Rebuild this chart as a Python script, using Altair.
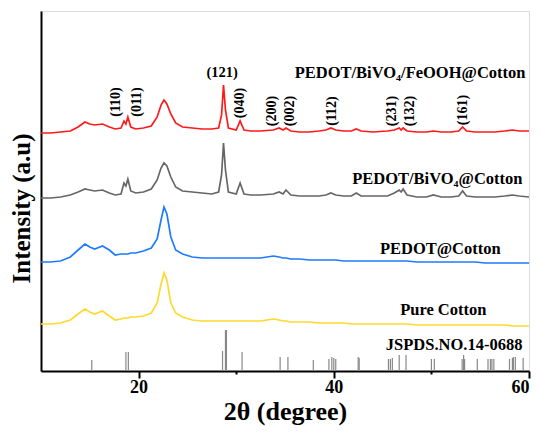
import altair as alt
import pandas as pd

# 2-theta sampling positions (degrees)
two_theta = [10, 11, 12, 13, 13.8, 14.5, 15.0, 15.5, 16.3, 17.0, 17.6, 18.2, 18.5, 18.7, 18.9,
             19.2, 19.7, 20.5, 21.3, 21.9, 22.3, 22.6, 22.9, 23.3, 23.8, 24.5, 25.5, 26.5, 27.5,
             28.2, 28.5, 28.7, 28.9, 29.2, 30.0, 30.4, 30.8, 31.5, 32.5, 33.8, 34.4, 34.8, 35.1,
             35.6, 36.5, 37.5, 38.5, 39.2, 39.7, 40.2, 41.0, 41.8, 42.3, 42.8, 44.0, 45.5, 46.2,
             46.7, 46.9, 47.1, 47.5, 48.5, 49.5, 50.2, 51.0, 52.0, 52.8, 53.2, 53.6, 54.5, 55.5,
             56.5, 57.5, 58.3, 59.0, 60]

# stacked (offset) intensities, arbitrary units
fe_cotton = [238, 238, 239, 240, 244, 249, 247, 246, 247, 244, 242, 243, 250, 247, 254,
             244, 242, 243, 245, 254, 266, 271, 267, 257, 248, 244, 243, 242, 242,
             243, 256, 286, 261, 243, 241, 250, 241, 240, 240, 241, 243, 241, 243,
             240, 239, 239, 240, 241, 243, 241, 240, 240, 242, 240, 239, 240, 241,
             243, 241, 243, 240, 239, 239, 240, 239, 239, 240, 244, 240, 239, 239,
             239, 240, 241, 240, 240]
bivo_cotton = [173, 173, 174, 176, 179, 182, 181, 180, 181, 178, 176, 177, 188, 185, 192,
               180, 178, 179, 182, 191, 203, 208, 205, 194, 184, 180, 179, 178, 177,
               179, 196, 228, 201, 179, 177, 188, 177, 176, 176, 177, 179, 177, 181,
               176, 175, 175, 175, 176, 178, 176, 175, 175, 178, 175, 175, 175, 178,
               181, 179, 182, 176, 174, 174, 176, 174, 174, 175, 180, 175, 174, 174,
               174, 175, 176, 175, 174]
pedot_cotton = [109, 109, 110, 114, 121, 127, 124, 122, 125, 121, 116, 117, 117, 117, 117,
                118, 118, 120, 123, 132, 151, 164, 157, 134, 121, 117, 114, 113, 113,
                113, 113, 113, 113, 113, 113, 113, 113, 113, 113, 115, 114, 113, 113,
                112, 112, 111, 111, 111, 111, 111, 110, 110, 110, 110, 110, 110, 110,
                110, 110, 110, 110, 109, 109, 109, 109, 109, 109, 109, 109, 109, 108,
                108, 108, 108, 108, 108]
pure_cotton = [47, 47, 48, 51, 57, 62, 59, 57, 60, 55, 51, 52, 53, 53, 53,
               54, 54, 55, 58, 68, 87, 98, 91, 68, 58, 54, 51, 50, 50,
               50, 50, 50, 50, 50, 50, 50, 50, 50, 50, 52, 51, 50, 50,
               49, 49, 49, 48, 48, 48, 48, 48, 47, 47, 47, 47, 47, 47,
               47, 47, 47, 47, 46, 46, 46, 46, 46, 46, 46, 46, 46, 46,
               46, 46, 45, 45, 45]

series_names = ["PEDOT/BiVO4/FeOOH@Cotton", "PEDOT/BiVO4@Cotton", "PEDOT@Cotton", "Pure Cotton"]
series_colors = ["#FF1A1A", "#666666", "#1E7BFF", "#FFD92E"]

# standard card JCPDS 14-0688 stick pattern
ref_pos = [15.2, 18.7, 18.95, 28.6, 28.9, 29.0, 30.6, 34.5, 35.3, 37.9, 39.5, 39.8, 40.0, 40.2,
           42.5, 42.6, 45.6, 45.8, 46.0, 46.7, 47.4, 50.0, 50.3, 53.15, 53.3, 53.4, 54.7,
           55.8, 56.05, 56.2, 56.4, 58.0, 58.3, 58.4, 58.6, 59.4]
ref_int = [11, 19, 19, 20, 41, 41, 19, 14, 14, 11, 12, 14, 13, 12,
           14, 13, 12, 12, 13, 16, 16, 12, 12, 12, 16, 12, 12,
           12, 12, 12, 12, 12, 13, 14, 14, 13]
ref_base = 0

# sample labels
label_text = ["PEDOT/BiVO₄/FeOOH@Cotton", "PEDOT/BiVO₄@Cotton", "PEDOT@Cotton", "Pure Cotton",
              "JSPDS.NO.14-0688"]
label_x = [59.64, 59.33, 57.1, 55.64, 59.33]
label_y = [298, 192, 122, 61, 26]

# Miller index annotations
hkl_text = ["(110)", "(011)", "(040)", "(200)", "(002)", "(112)", "(231)", "(132)", "(161)"]
hkl_x = [17.69, 19.85, 30.41, 33.69, 35.54, 39.85, 46.0, 47.85, 53.28]
hkl_y = [269, 269, 268, 260, 260, 260, 260, 260, 261]
top_hkl_text = ["(121)"]
top_hkl_x = [28.56]
top_hkl_y = [298]

major_ticks = [20, 40, 60]
minor_ticks = [30, 50]

FONT = "Liberation Serif"

rows = []
for name, vals in zip(series_names, [fe_cotton, bivo_cotton, pedot_cotton, pure_cotton]):
    for xv, yv in zip(two_theta, vals):
        rows.append({"x": xv, "y": yv, "series": name})
lines_df = pd.DataFrame(rows)
ref_df = pd.DataFrame({"x": ref_pos, "y": [ref_base] * len(ref_pos),
                       "y2": [ref_base + v for v in ref_int]})
lab_df = pd.DataFrame({"x": label_x, "y": label_y, "t": label_text})
hkl_df = pd.DataFrame({"x": hkl_x, "y": hkl_y, "t": hkl_text})
top_df = pd.DataFrame({"x": top_hkl_x, "y": top_hkl_y, "t": top_hkl_text})

xscale = alt.Scale(domain=[10, 60], nice=False, zero=False)
yscale = alt.Scale(domain=[0, 360], nice=False, zero=False)

x_axis = alt.Axis(values=major_ticks, title="2θ (degree)", grid=False, orient="bottom",
                  labelFont=FONT, labelFontSize=18, labelFontWeight="bold", labelColor="black",
                  labelPadding=0, tickSize=7, tickColor="black", tickWidth=2,
                  domainColor="black", domainWidth=2,
                  titleFont=FONT, titleFontSize=26, titleFontWeight="bold", titleColor="black",
                  titleY=27, titleBaseline="top")
minor_axis = alt.Axis(values=minor_ticks, title=None, grid=False, orient="bottom",
                      labels=False, tickSize=3, tickColor="black", tickWidth=2,
                      domain=False)
y_axis = alt.Axis(title="Intensity (a.u)", labels=False, ticks=False, grid=False,
                  domainColor="black", domainWidth=2,
                  titleFont=FONT, titleFontSize=25, titleFontWeight="bold", titleColor="black",
                  titleAngle=270, titleX=-20, titleY=197, titleAlign="center",
                  titleBaseline="middle")

lines = alt.Chart(lines_df).mark_line(strokeWidth=1.7).encode(
    x=alt.X("x:Q", scale=xscale, axis=x_axis),
    y=alt.Y("y:Q", scale=yscale, axis=y_axis),
    color=alt.Color("series:N", scale=alt.Scale(domain=series_names, range=series_colors),
                    legend=None),
)

sticks = alt.Chart(ref_df).mark_rule(color="#888888", strokeWidth=1.2).encode(
    x=alt.X("x:Q", scale=xscale, axis=minor_axis),
    y=alt.Y("y:Q", scale=yscale, axis=y_axis),
    y2="y2:Q",
)

labels = alt.Chart(lab_df).mark_text(font=FONT, fontSize=16.5, fontWeight="bold",
                                     color="black", align="right", baseline="middle").encode(
    x=alt.X("x:Q", scale=xscale, axis=None), y=alt.Y("y:Q", scale=yscale),
    text="t:N")

hkl = alt.Chart(hkl_df).mark_text(font=FONT, fontSize=14, fontWeight="bold", color="black",
                                  angle=270, align="center", baseline="middle").encode(
    x=alt.X("x:Q", scale=xscale, axis=None), y=alt.Y("y:Q", scale=yscale),
    text="t:N")

top_hkl = alt.Chart(top_df).mark_text(font=FONT, fontSize=14.5, fontWeight="bold", color="black",
                                      align="center", baseline="middle").encode(
    x=alt.X("x:Q", scale=xscale, axis=None), y=alt.Y("y:Q", scale=yscale),
    text="t:N")

chart = alt.layer(lines, sticks, labels, hkl, top_hkl).resolve_axis(x="independent").properties(
    width=488, height=360,
    padding={"left": 41, "top": 11, "right": 10, "bottom": 63},
    autosize=alt.AutoSizeParams(type="none"),
).configure_view(stroke="black", strokeWidth=2).configure(background="white")

chart.save("out.html", embed_options={"renderer": "svg", "actions": False})
